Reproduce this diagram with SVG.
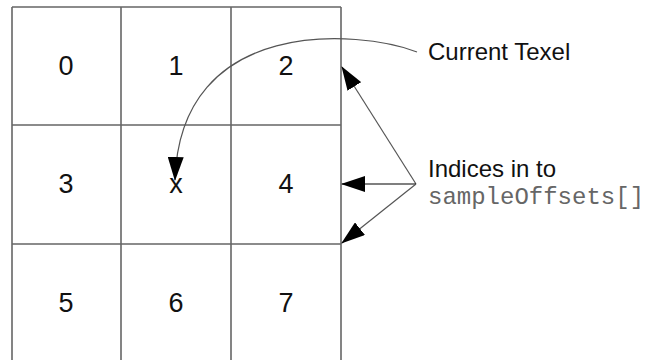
<svg xmlns="http://www.w3.org/2000/svg" width="646" height="360" viewBox="0 0 646 360">
<style>
.grid{stroke:#666;stroke-width:1.6;fill:none}
.num{font-family:"Liberation Sans",Arial,sans-serif;font-size:27px;fill:#111;text-anchor:middle}
.lbl{font-family:"Liberation Sans",Arial,sans-serif;font-size:24px;fill:#111}
.mono{font-family:"Liberation Mono","Courier New",monospace;font-size:24px;fill:#666}
.conn{fill:none;stroke:#555;stroke-width:1.2}
.dark{stroke:#000}
</style>
<defs>
<marker id="ah" markerUnits="userSpaceOnUse" markerWidth="24" markerHeight="16" refX="23" refY="8" orient="auto">
<path d="M0,0 L24,8 L0,16 z" fill="#000"/>
</marker>
</defs>
<rect width="646" height="360" fill="#fff"/>
<g id="grid">
<path class="grid" d="M12,7 H341 M12,125 H341 M12,244 H341 M12,7 V362 M121,7 V362 M231,7 V362 M341,7 V362"/>
</g>
<g id="cell0"><text class="num" x="66" y="75">0</text></g>
<g id="cell1"><text class="num" x="176" y="75">1</text></g>
<g id="cell2"><text class="num" x="286" y="75">2</text></g>
<g id="cell3"><text class="num" x="66" y="193">3</text></g>
<g id="cellx"><text class="num" x="176" y="193">x</text></g>
<g id="cell4"><text class="num" x="286" y="193">4</text></g>
<g id="cell5"><text class="num" x="66" y="312">5</text></g>
<g id="cell6"><text class="num" x="176" y="312">6</text></g>
<g id="cell7"><text class="num" x="286" y="312">7</text></g>
<g id="label-current"><text class="lbl" x="428" y="60">Current Texel</text></g>
<g id="label-indices"><text class="lbl" x="428" y="177">Indices in to</text><text class="mono" x="428" y="204">sampleOffsets[]</text></g>
<g id="connectors">
<path class="conn" d="M417,52 C360,30 180,15 175,180" marker-end="url(#ah)"/>
<path class="conn" d="M416,184 L342,67" marker-end="url(#ah)"/>
<path class="conn dark" d="M416,184 L342,184" marker-end="url(#ah)"/>
<path class="conn" d="M416,184 L342,243" marker-end="url(#ah)"/>
</g>
</svg>
